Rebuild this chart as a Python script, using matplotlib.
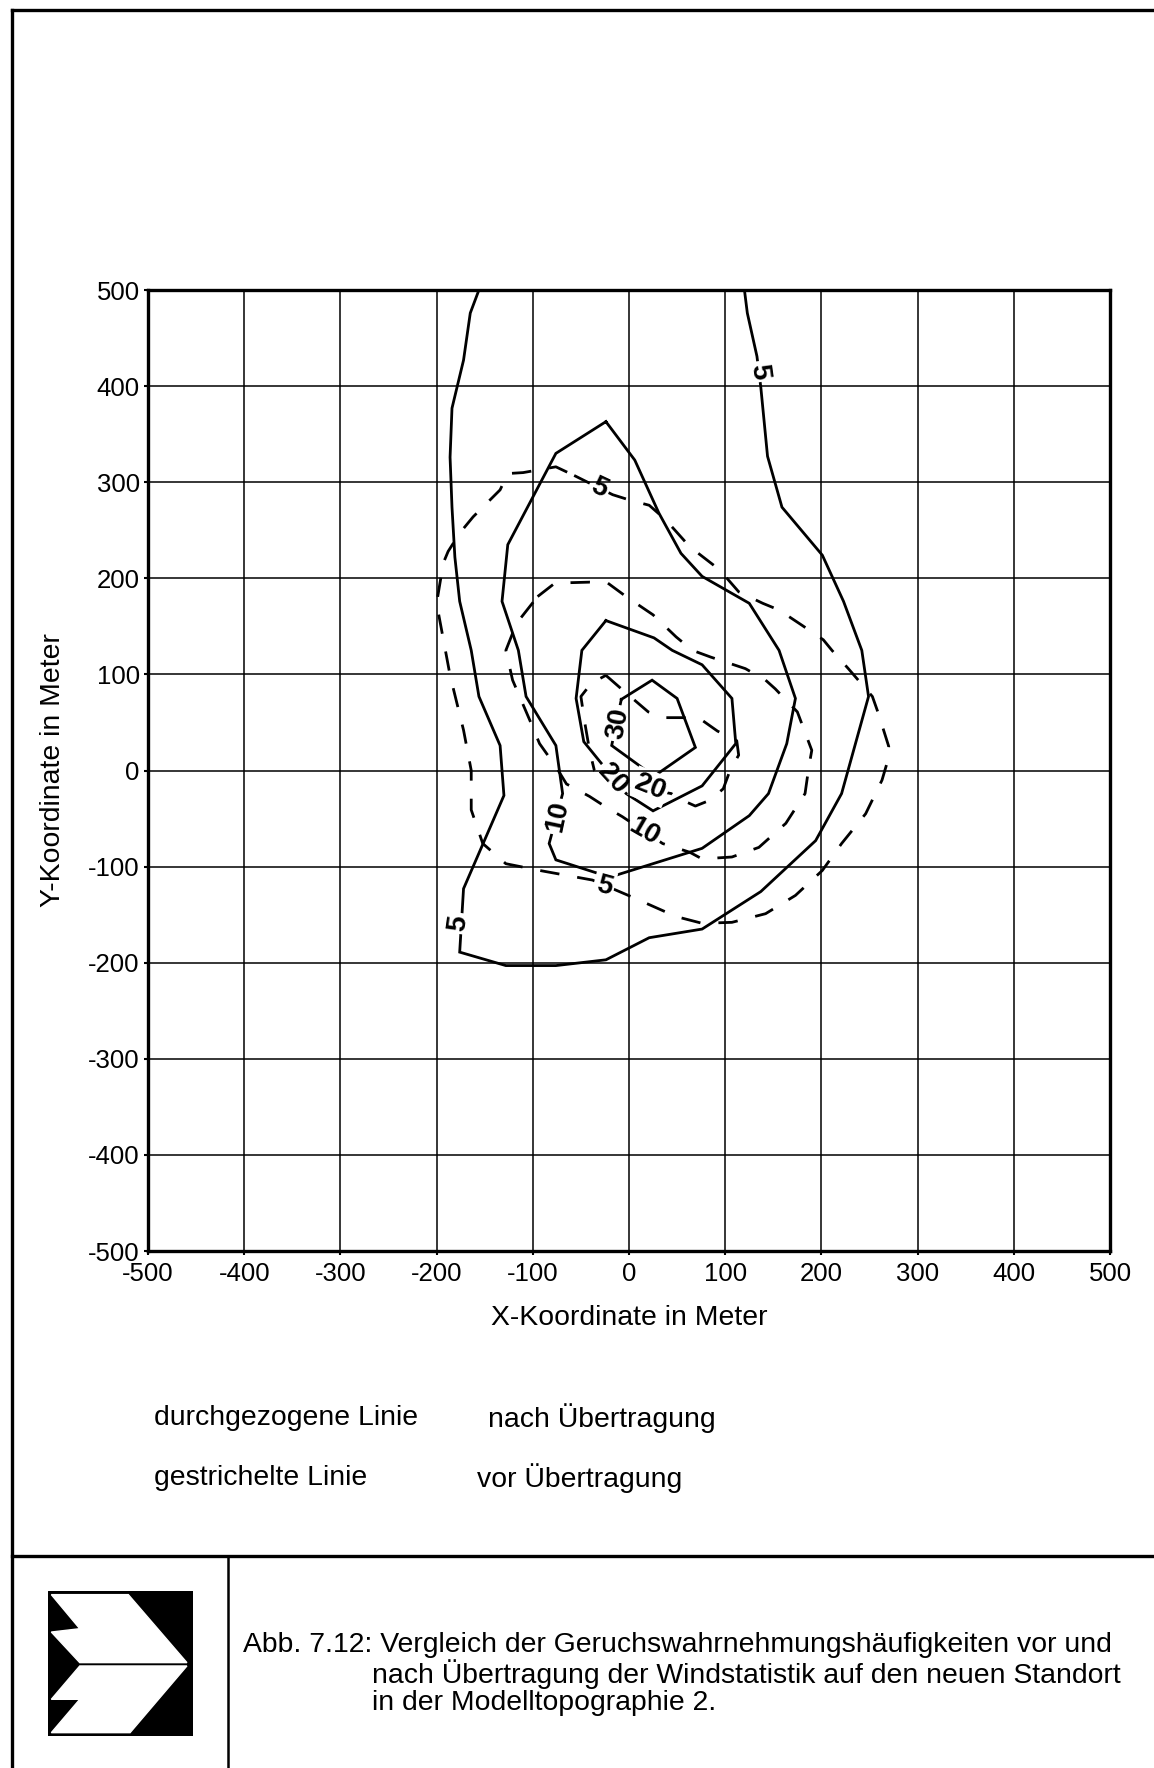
import matplotlib.pyplot as plt
from matplotlib.lines import Line2D
from matplotlib.patches import Polygon, Rectangle

plt.rcParams['font.family'] = ['Liberation Sans', 'DejaVu Sans']
plt.rcParams['lines.scale_dashes'] = False
plt.rcParams['axes.unicode_minus'] = False

# Kontur "nach Übertragung" (durchgezogen)
solid_5_x = [-156, -165, -172, -184, -186, -184, -181, -176, -164, -156, -134, -130, -172, -176, -128, -76,
             -24, 21, 76, 137, 194, 221, 249, 242, 223, 201, 159, 144, 137, 133, 123, 120]
solid_5_y = [500, 476, 427, 377, 326, 274, 222, 176, 125, 77, 26, -26, -123, -189, -203, -203,
             -197, -174, -165, -126, -73, -24, 77, 125, 176, 224, 274, 327, 399, 431, 476, 500]
solid_10_x = [-24, -76, -126, -132, -115, -107, -76, -69, -83, -76, -20, 76, 125, 145, 164, 173, 156, 125,
              76, 54, 31, 6, -24]
solid_10_y = [363, 330, 235, 176, 125, 77, 26, -24, -76, -93, -111, -81, -47, -24, 28, 75, 125, 174,
              202, 226, 268, 323, 363]
solid_20_x = [-24, -49, -55, -47, -30, -3, 25, 76, 111, 107, 76, 45, 26, -24]
solid_20_y = [156, 125, 75, 30, 9, -24, -42, -16, 28, 75, 110, 125, 138, 156]
solid_30_x = [-8, 24, 50, 69, 26, -18, -8]
solid_30_y = [74, 94, 75, 24, -6, 26, 74]

# Kontur "vor Übertragung" (gestrichelt)
dashed_5_x = [-57, -17, 2, 21, 38, 63, 94, 114, 139, 156, 180, 202, 211, 228, 253, 259, 270, 268, 263, 246,
              221, 201, 173, 142, 107, 76, 49, 4, -38, -93, -128, -152, -164, -164, -172, -186, -200, -193,
              -188, -176, -162, -134, -126, -110, -76, -57]
dashed_5_y = [307, 287, 281, 276, 261, 233, 209, 186, 174, 167, 151, 136, 125, 106, 77, 60, 25, 7, -10, -45,
              -76, -104, -130, -149, -158, -159, -152, -132, -114, -104, -97, -76, -41, 0, 42, 99, 174, 216,
              228, 247, 264, 292, 309, 310, 316, 307]
dashed_10_x = [-95, -77, -41, -22, -3, 25, 49, 66, 85, 121, 142, 152, 175, 190, 187, 183, 163, 135, 107, 76,
               63, 35, -7, -24, -41, -65, -76, -93, -103, -121, -128, -117, -95]
dashed_10_y = [181, 195, 196, 195, 181, 162, 139, 125, 118, 106, 94, 85, 61, 21, 4, -24, -55, -80, -90, -92,
               -85, -76, -48, -38, -27, -14, 4, 28, 52, 94, 125, 153, 181]
dashed_20_x = [-24, -8, 6, 20, 37, 56, 75, 92, 112, 114, 105, 98, 84, 69, 49, 44, 4, -24, -36, -41, -46,
               -50, -39, -24]
dashed_20_y = [99, 85, 73, 61, 55, 55, 53, 41, 31, 16, 0, -19, -31, -37, -28, -24, -17, -14, 0, 21, 50,
               77, 91, 99]

# Beschriftung der Isolinien
label_x = [135, -177, -74, -11, -17, -31, -26, 16, 22]
label_y = [415, -159, -48, 49, -9, 294, -120, -64, -17]
label_text = ['5', '5', '10', '30', '20', '5', '5', '10', '20']
label_rot = [-82, 82, 78, 80, -48, -25, -15, -30, -22]

ticks = [-500, -400, -300, -200, -100, 0, 100, 200, 300, 400, 500]

W, H = 1154, 1768
fig = plt.figure(figsize=(W / 100, H / 100), dpi=100)


def px(x, y):
    return x / W, 1 - y / H


ax = fig.add_axes([148 / W, 1 - 1251 / H, 962 / W, 961 / H])
ax.set_xlim(-500, 500)
ax.set_ylim(-500, 500)
ax.set_xticks(ticks)
ax.set_yticks(ticks)
ax.tick_params(direction='out', length=3, width=1.5, labelsize=18.5, pad=3)
ax.tick_params(axis='x', pad=5)
ax.grid(True, color='black', linewidth=1.1)
ax.set_axisbelow(False)
for sp in ax.spines.values():
    sp.set_linewidth(2.4)

lw = 2.0
for xs, ys in [(solid_5_x, solid_5_y), (solid_10_x, solid_10_y), (solid_20_x, solid_20_y),
               (solid_30_x, solid_30_y)]:
    ax.plot(xs, ys, color='black', linewidth=lw, solid_joinstyle='miter', zorder=2)
for xs, ys in [(dashed_5_x, dashed_5_y), (dashed_10_x, dashed_10_y), (dashed_20_x, dashed_20_y)]:
    ax.plot(xs, ys, color='black', linewidth=lw, dashes=[14, 13], zorder=2)

for x, y, s, r in zip(label_x, label_y, label_text, label_rot):
    ax.text(x, y, s, rotation=r, rotation_mode='anchor', ha='center', va='center',
            fontsize=20, fontweight='bold', zorder=2.2,
            bbox=dict(boxstyle='square,pad=0.1', fc='white', ec='none'))

fs = 20.4
fig.text(*px(629, 1318), 'X-Koordinate in Meter', fontsize=fs, ha='center', va='center')
fig.text(*px(53, 770), 'Y-Koordinate in Meter', fontsize=fs, ha='center', va='center', rotation=90)

fig.text(*px(154, 1418), 'durchgezogene Linie', fontsize=fs, va='center')
fig.text(*px(488, 1418), 'nach Übertragung', fontsize=fs, va='center')
fig.text(*px(154, 1478), 'gestrichelte Linie', fontsize=fs, va='center')
fig.text(*px(477, 1478), 'vor Übertragung', fontsize=fs, va='center')

fig.text(*px(243, 1645), 'Abb. 7.12: Vergleich der Geruchswahrnehmungshäufigkeiten vor und',
         fontsize=fs, va='center')
fig.text(*px(372, 1674), 'nach Übertragung der Windstatistik auf den neuen Standort',
         fontsize=fs, va='center')
fig.text(*px(372, 1703), 'in der Modelltopographie 2.', fontsize=fs, va='center')

# Rahmen
for (x0, y0), (x1, y1), w in [((12, 10), (12, H), 2.4), ((12, 10), (W, 10), 2.4),
                              ((12, 1556), (W, 1556), 2.4), ((228, 1556), (228, H), 1.8)]:
    a, b = px(x0, y0)
    c, d = px(x1, y1)
    fig.add_artist(Line2D([a, c], [b, d], color='black', linewidth=w, solid_capstyle='projecting'))

# Logo
lax = fig.add_axes([48 / W, 1 - 1736 / H, 145 / W, 145 / H])
lax.set_xlim(0, 1)
lax.set_ylim(1, 0)
lax.axis('off')
lax.add_patch(Rectangle((0, 0), 1, 1, color='black'))
upper = [(0.023, 0.025), (0.554, 0.025), (0.958, 0.494), (0.219, 0.494), (0.023, 0.283), (0.219, 0.26)]
lower = [(0.219, 0.517), (0.958, 0.517), (0.566, 0.977), (0.023, 0.977), (0.219, 0.747), (0.023, 0.747)]
lax.add_patch(Polygon(upper, closed=True, color='white'))
lax.add_patch(Polygon(lower, closed=True, color='white'))

fig.savefig('out.png', dpi=100)
